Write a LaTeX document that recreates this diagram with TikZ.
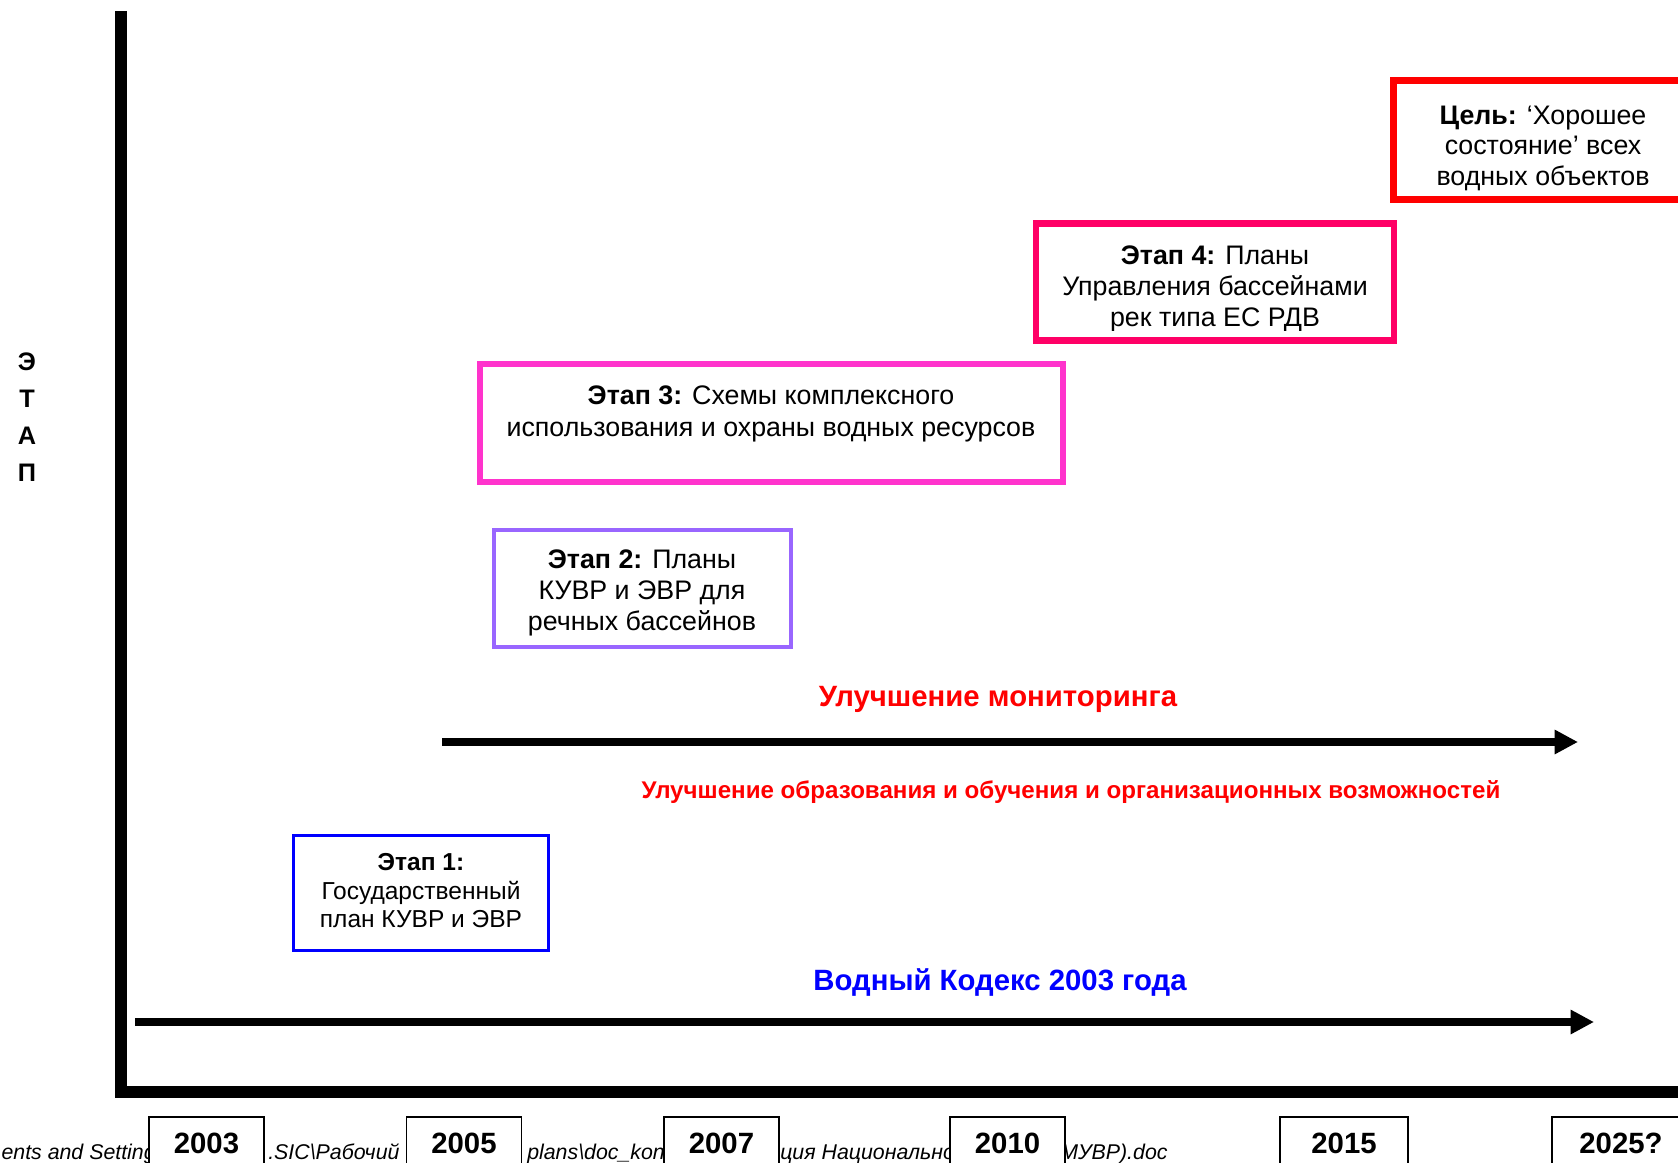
\documentclass[tikz,border=0pt]{standalone}
\usepackage{fontspec}
\setmainfont{Liberation Sans}
\usetikzlibrary{arrows.meta}
\definecolor{goalred}{HTML}{FF0000}
\definecolor{stfour}{HTML}{FF0066}
\definecolor{stthree}{HTML}{FF33CC}
\definecolor{sttwo}{HTML}{9966FF}
\definecolor{stone}{HTML}{0000FF}
\definecolor{labred}{HTML}{FF0000}
\definecolor{labblue}{HTML}{0000FF}
\newcommand\fsz[2]{\fontsize{#1}{#2}\selectfont}
\begin{document}
\begin{tikzpicture}[x=0.75pt,y=-0.75pt,
  stagebox/.style={draw, rectangle, inner sep=0pt, outer sep=0pt},
  boxtext/.style={anchor=base, inner sep=0pt, font=\fsz{20.1}{23}},
  onetext/.style={anchor=base, inner sep=0pt, font=\fsz{18.4}{21}},
  yeartext/.style={anchor=base, inner sep=0pt, font=\fsz{22}{25}\bfseries},
  yearbox/.style={draw=black, fill=white, line width=1.1pt, rectangle, inner sep=0pt, minimum width=86.25pt, minimum height=43.5pt},
  pathtext/.style={inner sep=0pt, font=\fsz{16}{18}\itshape},
  vlabel/.style={anchor=base, inner sep=0pt, font=\fsz{19}{22}\bfseries},
  axisline/.style={line width=8.5pt, line join=miter},
  bigarrow/.style={line width=6pt, -{Triangle[length=17.5pt,width=17.25pt]}}
]
\useasboundingbox (0,0) rectangle (1678,1163);

% axes
\coordinate (ytop) at (121,11);
\coordinate (origin) at (121,1092);
\coordinate (xend) at (1690,1092);
\draw[axisline] (ytop) -- (origin) -- (xend);

% vertical label
\node[vlabel] (e1) at (27,370) {Э};
\node[vlabel] (e2) at (27,407) {Т};
\node[vlabel] (e3) at (27,444) {А};
\node[vlabel] (e4) at (27,481) {П};

% goal box
\node[stagebox, line width=5.25pt, draw=goalred, minimum width=224.25pt, minimum height=89.6pt] (goal) at (1543,140.25) {};
\node[boxtext] (goal1) at (1543,124) {\textbf{Цель:} ‘Хорошее};
\node[boxtext] (goal2) at (1543,154.5) {состояние’ всех};
\node[boxtext] (goal3) at (1543,185) {водных объектов};

% stage 4
\node[stagebox, line width=4.9pt, draw=stfour, minimum width=268.5pt, minimum height=87.75pt] (st4) at (1215,282) {};
\node[boxtext] (st4a) at (1215,264.5) {\textbf{Этап 4:} Планы};
\node[boxtext] (st4b) at (1215,295.5) {Управления бассейнами};
\begin{scope}
\clip (1040,300) rectangle (1390,330);
\node[boxtext] (st4c) at (1215,326.5) {рек типа ЕС РДВ};
\end{scope}

% stage 3
\node[stagebox, line width=4.1pt, draw=stthree, minimum width=437.25pt, minimum height=88.5pt] (st3) at (771.5,423) {};
\node[boxtext] (st3a) at (771,404) {\textbf{Этап 3:} Схемы комплексного};
\node[boxtext] (st3b) at (771,436) {использования и охраны водных ресурсов};

% stage 2
\node[stagebox, line width=3pt, draw=sttwo, minimum width=222.75pt, minimum height=87.75pt] (st2) at (642.5,588.5) {};
\node[boxtext] (st2a) at (642,568) {\textbf{Этап 2:} Планы};
\node[boxtext] (st2b) at (642,599) {КУВР и ЭВР для};
\node[boxtext] (st2c) at (642,630) {речных бассейнов};

% stage 1
\node[stagebox, line width=2.25pt, draw=stone, minimum width=191.25pt, minimum height=86.25pt] (st1) at (421,893) {};
\node[onetext] (st1a) at (421,870) {\textbf{Этап 1:}};
\node[onetext] (st1b) at (421,899) {Государственный};
\node[onetext] (st1c) at (421,927) {план КУВР и ЭВР};

% monitoring
\node[anchor=base, inner sep=0pt, text=labred, font=\fsz{22}{26}\bfseries] (mon) at (998,706) {Улучшение мониторинга};
\coordinate (mons) at (442,742);
\coordinate (mone) at (1578,742);
\draw[bigarrow] (mons) -- (mone);
\node[anchor=base, inner sep=0pt, text=labred, font=\fsz{18.1}{21}\bfseries] (edu) at (1071,798) {Улучшение образования и обучения и организационных возможностей};

% water code
\node[anchor=base, inner sep=0pt, text=labblue, font=\fsz{22}{26}\bfseries] (code) at (1000,990.5) {Водный Кодекс 2003 года};
\coordinate (codes) at (135,1022);
\coordinate (codee) at (1594,1022);
\draw[bigarrow] (codes) -- (codee);

% file path fragments (behind the year boxes)
\node[pathtext, anchor=base east] (p1) at (156,1159) {ents and Setting};
\node[pathtext, anchor=base west] (p2) at (268,1159) {.SIC\textbackslash Рабочий};
\node[pathtext, anchor=base west] (p3) at (527,1159) {plans\textbackslash doc\_kon};
\node[pathtext, anchor=base west] (p4) at (780,1159) {ция Национально};
\node[pathtext, anchor=base west] (p5) at (1060,1159) {МУВР).doc};

% year boxes
\node[yearbox] (y2003) at (206.5,1146) {};
\node[yearbox] (y2005) at (464,1146) {};
\node[yearbox] (y2007) at (721.5,1146) {};
\node[yearbox] (y2010) at (1007.5,1146) {};
\node[yearbox, minimum width=96pt] (y2015) at (1344,1146) {};
\node[yearbox, minimum width=103.5pt] (y2025) at (1621,1146) {};
\node[yeartext] (t2003) at (206.5,1153) {2003};
\node[yeartext] (t2005) at (464,1153) {2005};
\node[yeartext] (t2007) at (721.5,1153) {2007};
\node[yeartext] (t2010) at (1007.5,1153) {2010};
\node[yeartext] (t2015) at (1344,1153) {2015};
\node[yeartext] (t2025) at (1621,1153) {2025?};
\end{tikzpicture}
\end{document}
